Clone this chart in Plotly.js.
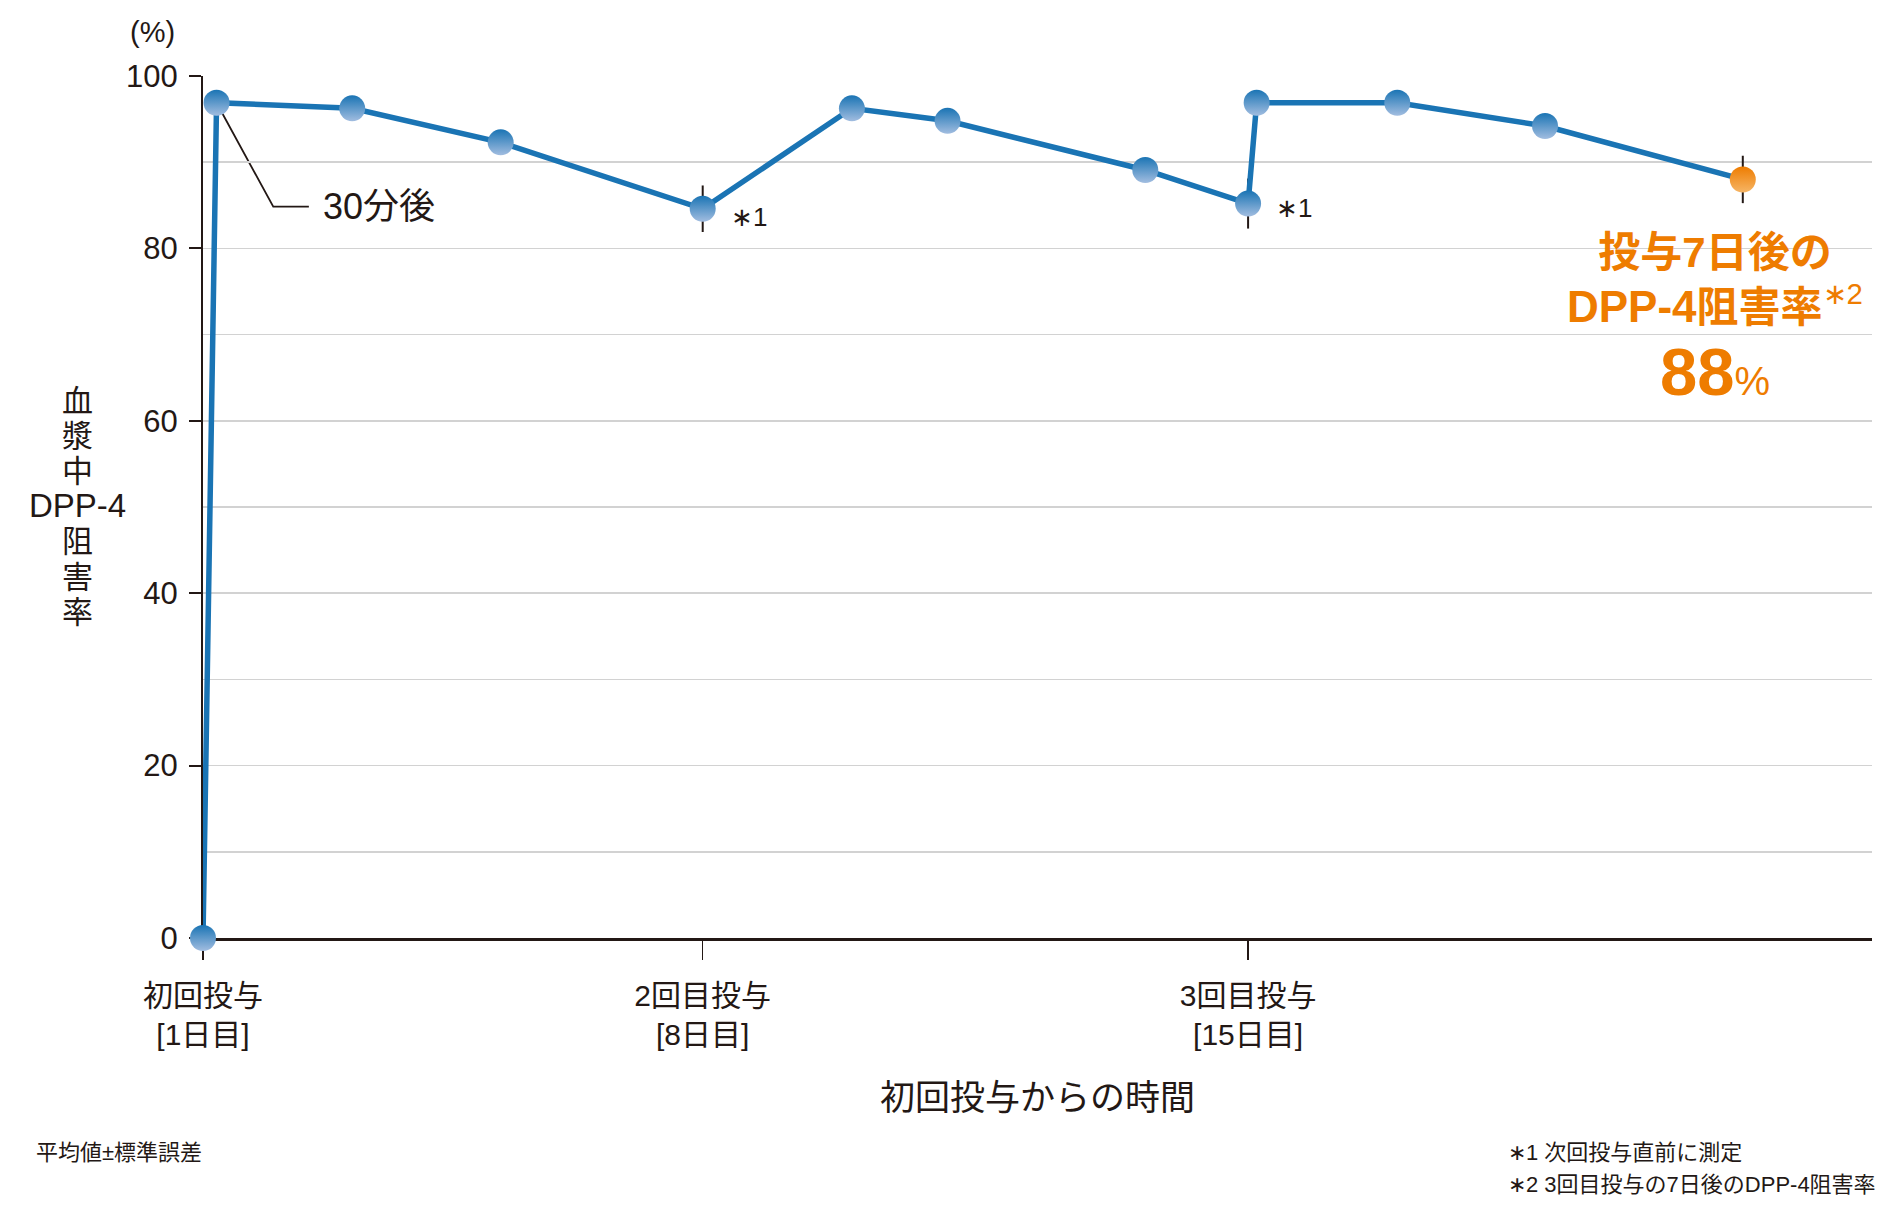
<!DOCTYPE html>
<html>
<head>
<meta charset="utf-8">
<script src="https://cdn.plot.ly/plotly-3.0.1.min.js"></script>
<style>
  html, body { margin: 0; padding: 0; background: #ffffff; }
  #chart { width: 1888px; height: 1222px; }
</style>
</head>
<body>
<div id="chart"></div>
<script>
// ---- data ----
// time since first dose, in days (axis is schematic)
const timeDays   = [0, 0.19, 2.09, 4.17, 7.0, 9.09, 10.43, 13.2, 14.64, 14.76, 16.73, 18.8, 21.57];
// plasma DPP-4 inhibition (%), mean
const inhibition = [0, 96.9, 96.25, 92.3, 84.6, 96.25, 94.8, 89.1, 85.2, 96.9, 96.9, 94.2, 88.0];
// standard error (%)
const stdError   = [0, 0.8, 0.8, 0.8, 2.7, 0.8, 0.8, 0.8, 2.9, 0.8, 0.8, 0.8, 2.75];

const doseTickVals = [0, 7, 14.64];
const doseTickText = ['初回投与<br>[1日目]', '2回目投与<br>[8日目]', '3回目投与<br>[15日目]'];
const yTickVals = [0, 20, 40, 60, 80, 100];

const idx30min = 1;           // "30分後" point
const idxTrough = [4, 8];     // "*1" points (just before next dose)
const idxFinal = timeDays.length - 1;  // 7 days after 3rd dose (highlighted)

// ---- styles ----
const BLUE = '#1a74b4';
const BLUE_LIGHT = '#a2bde0';
const ORANGE = '#ee7c00';
const ORANGE_LIGHT = '#f6b565';
const INK = '#231815';
const FONT = '"Liberation Sans", "Noto Sans CJK JP", sans-serif';

const markerColors = timeDays.map((_, i) => i === idxFinal ? ORANGE : BLUE);
const gradColors   = timeDays.map((_, i) => i === idxFinal ? ORANGE_LIGHT : BLUE_LIGHT);

const errTrace = {
  x: timeDays, y: inhibition, type: 'scatter', mode: 'markers',
  marker: { size: 1, opacity: 0 },
  error_y: { type: 'data', array: stdError, visible: true, color: INK, thickness: 2, width: 0 },
  cliponaxis: false, hoverinfo: 'skip', showlegend: false
};

const mainTrace = {
  x: timeDays, y: inhibition, type: 'scatter', mode: 'lines+markers',
  line: { color: BLUE, width: 5.5 },
  marker: {
    size: 26, color: markerColors,
    gradient: { type: 'vertical', color: gradColors },
    line: { width: 0 }
  },
  cliponaxis: false, showlegend: false
};

function big(s, px) { return '<span style="font-size:' + px + 'px">' + s + '</span>'; }
const yTitleLines = ['血', '漿', '中', 'DPP-4', '阻', '害', '率'];

const annotations = [
  // (%) unit
  { xref: 'paper', yref: 'paper', x: -0.030, y: 1.0505, xanchor: 'center', yanchor: 'middle',
    text: '(%)', showarrow: false, font: { family: FONT, size: 29, color: INK } },
  // y axis title (stacked)
  { xref: 'paper', yref: 'paper', x: -0.0749, y: 0.5, xanchor: 'center', yanchor: 'middle',
    text: yTitleLines.map(s => s.length > 1 ? big(s, 33) : big(s, 31)).join('<br>'), showarrow: false,
    font: { family: FONT, size: 27, color: INK } },
  // 30分後 label
  { xref: 'x', yref: 'y', x: timeDays[idx30min], y: inhibition[idx30min],
    xshift: 104, yshift: -104, xanchor: 'left', yanchor: 'middle',
    text: '30分後', showarrow: false, font: { family: FONT, size: 36, color: INK } },
  // *1 labels
  { xref: 'x', yref: 'y', x: timeDays[idxTrough[0]], y: inhibition[idxTrough[0]],
    xshift: 26, yshift: -8, xanchor: 'left', yanchor: 'middle',
    text: '∗1', showarrow: false, font: { family: FONT, size: 26, color: INK } },
  { xref: 'x', yref: 'y', x: timeDays[idxTrough[1]], y: inhibition[idxTrough[1]],
    xshift: 26, yshift: -4, xanchor: 'left', yanchor: 'middle',
    text: '∗1', showarrow: false, font: { family: FONT, size: 26, color: INK } },
  // highlighted result
  { xref: 'x', yref: 'y', x: timeDays[idxFinal], y: inhibition[idxFinal],
    xshift: -28, yshift: -101, xanchor: 'center', yanchor: 'middle',
    text: '<b>投与7日後の</b><br><b>' + big('DPP-4', 44) + '阻害率</b><sup>∗2</sup>', showarrow: false,
    font: { family: FONT, size: 42, color: ORANGE } },
  { xref: 'x', yref: 'y', x: timeDays[idxFinal], y: inhibition[idxFinal],
    xshift: -28, yshift: -192, xanchor: 'center', yanchor: 'middle',
    text: '<b>' + big(Math.round(inhibition[idxFinal]), 67) + '</b>%', showarrow: false,
    font: { family: FONT, size: 40, color: ORANGE } },
  // footnotes
  { xref: 'paper', yref: 'paper', x: -0.1013, y: -0.2494, xanchor: 'left', yanchor: 'middle',
    text: '平均値±標準誤差', showarrow: false, font: { family: FONT, size: 22, color: INK } },
  { xref: 'paper', yref: 'paper', x: 0.7807, y: -0.2483, xanchor: 'left', yanchor: 'middle',
    text: '∗1 次回投与直前に測定', showarrow: false, font: { family: FONT, size: 22, color: INK } },
  { xref: 'paper', yref: 'paper', x: 0.7807, y: -0.2854, xanchor: 'left', yanchor: 'middle',
    text: '∗2 3回目投与の7日後のDPP-4阻害率', showarrow: false, font: { family: FONT, size: 22, color: INK } }
];

const shapes = [
  // leader line for 30分後
  { type: 'path', xref: 'x', yref: 'y', xsizemode: 'pixel', ysizemode: 'pixel',
    xanchor: timeDays[idx30min], yanchor: inhibition[idx30min],
    path: 'M0,0 L56.7,-104 L92.3,-104', line: { color: INK, width: 1.8 }, layer: 'below' }
];

const layout = {
  width: 1888, height: 1222,
  margin: { l: 203, r: 16, t: 76, b: 284, pad: 0 },
  paper_bgcolor: '#ffffff', plot_bgcolor: '#ffffff',
  showlegend: false,
  font: { family: FONT, color: INK },
  xaxis: {
    range: [0, 23.38], tickmode: 'array', tickvals: doseTickVals, ticktext: doseTickText,
    ticks: 'outside', ticklen: 19, tickwidth: 1.5, tickcolor: INK,
    ticklabelstandoff: 10,
    showline: true, linecolor: INK, linewidth: 2.5, showgrid: false, zeroline: false,
    tickfont: { family: FONT, size: 30, color: INK },
    title: { text: '初回投与からの時間', font: { family: FONT, size: 35, color: INK }, standoff: 36 },
    layer: 'below traces', fixedrange: true
  },
  yaxis: {
    range: [0, 100], tickmode: 'array', tickvals: yTickVals,
    ticks: 'outside', ticklen: 12, tickwidth: 2, tickcolor: INK,
    ticklabelstandoff: 5,
    showline: true, linecolor: INK, linewidth: 2, zeroline: false,
    showgrid: true, gridcolor: '#d2d2d2', gridwidth: 1.5,
    minor: { dtick: 10, tick0: 0, showgrid: true, gridcolor: '#d2d2d2', gridwidth: 1.5, ticks: '' },
    tickfont: { family: FONT, size: 31, color: INK },
    layer: 'below traces', fixedrange: true
  },
  annotations: annotations,
  shapes: shapes
};

Plotly.newPlot('chart', [errTrace, mainTrace], layout, { staticPlot: true, displayModeBar: false });
</script>
</body>
</html>
